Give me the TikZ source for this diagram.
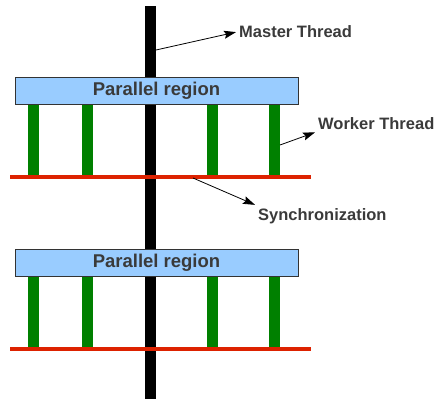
\documentclass[tikz,border=0pt]{standalone}
\usepackage{fontspec}
\setmainfont{Liberation Sans}
\usetikzlibrary{positioning, arrows.meta}

\definecolor{regionblue}{HTML}{99CCFF}
\definecolor{workergreen}{HTML}{008000}
\definecolor{syncred}{HTML}{DD2200}
\definecolor{textgray}{HTML}{3A3A3A}

\begin{document}
\begin{tikzpicture}[
		x=1pt, y=-1pt,
		% Define Node Styles
		masterbar/.style={fill=black, minimum width=11pt, minimum height=393pt, inner sep=0pt},
		worker/.style={fill=workergreen, minimum width=11pt, minimum height=73pt, inner sep=0pt, anchor=north},
		syncbar/.style={fill=syncred, minimum width=301pt, minimum height=4pt, inner sep=0pt},
		region/.style={draw=black!80, fill=regionblue, minimum width=283pt, minimum height=27pt, inner sep=0pt, text=textgray, font=\bfseries\fontsize{18.5}{20}\selectfont},
		tag/.style={text=textgray, font=\bfseries\fontsize{16.5}{18}\selectfont, anchor=base west, inner sep=3pt},
		% Define Arrow Style
		pointer/.style={-{Stealth[length=12pt, width=8pt, inset=2pt]}, line width=0.8pt, black}
		]
		\useasboundingbox (0,0) rectangle (435,401);
		
		% Master thread
		\node[masterbar] (master) at (150,202.5) {};
		
		% Worker threads
		\foreach \x [count=\i] in {33.5, 87, 212, 274} {
			\node[worker] (wa\i) at (\x,104) {};
			\node[worker] (wb\i) at (\x,276) {};
		}
		
		% Synchronization barriers
		\node[syncbar] (sync1) at (160.5,177) {};
		\node[syncbar] (sync2) at (160.5,349) {};
		
		% Parallel regions
		\node[region] (par1) at (156.5,90.5) {Parallel region};
		\node[region] (par2) at (156.5,262.5) {Parallel region};
		
		% Labels
		\node[tag] (mtext) at (236,38) {Master Thread};
		\node[tag] (wtext) at (315,129) {Worker Thread};
		\node[tag] (stext) at (255,220) {Synchronization};
		
		% Pointers
		\coordinate (mfoot) at (156,50);
		\coordinate (wfoot) at (280,145);
		\coordinate (sfoot) at (193,178);
		\draw[pointer] (mfoot) -- (mtext.west);
		\draw[pointer] (wfoot) -- (wtext.south west);
		\draw[pointer] (sfoot) -- (stext.north west);
		
	\end{tikzpicture}
\end{document}
